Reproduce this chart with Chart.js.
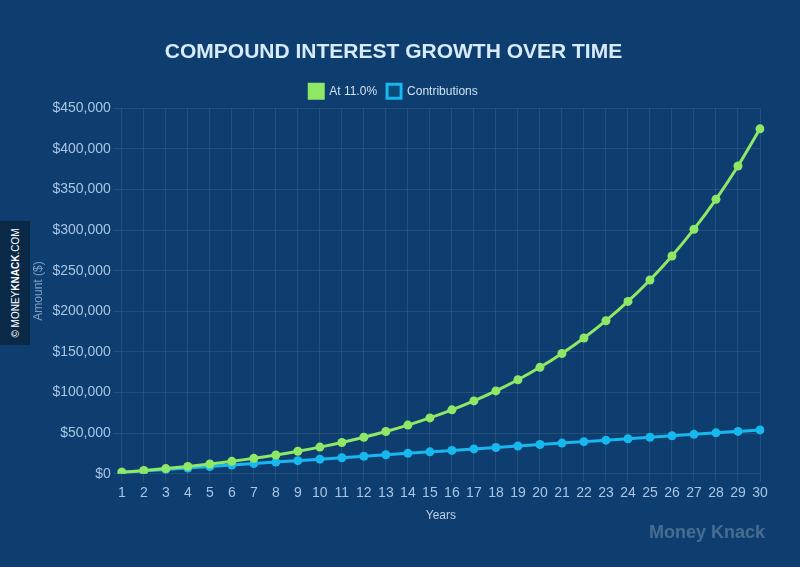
<!DOCTYPE html>
<html>
<head>
<meta charset="utf-8">
<script src="https://cdn.jsdelivr.net/npm/chart.js@4"></script>
<style>
  html, body { margin: 0; padding: 0; background: #0e3e6f; }
  #wrap { position: relative; width: 800px; height: 567px; background: #0e3e6f; }
  #badge {
    position: absolute; left: 0; top: 221px; width: 30px; height: 124px;
    background: #0a2947;
  }
  #badge span {
    position: absolute; left: 15px; top: 62px;
    transform: translate(-50%, -50%) rotate(-90deg);
    white-space: nowrap; color: #ffffff; font: 10px "Liberation Sans", Arial, sans-serif;
  }
  #brand {
    position: absolute; right: 35px; top: 522px;
    color: rgba(255,255,255,0.24); font: bold 18px "Liberation Sans", Arial, sans-serif;
  }
</style>
</head>
<body>
<div id="wrap">
  <canvas id="myChart" width="800" height="567"></canvas>
  <div id="badge"><span>© MONEY<b>KNACK</b>.COM</span></div>
  <div id="brand">Money Knack</div>
</div>
<script>
// years on the x axis
const years = [1, 2, 3, 4, 5, 6, 7, 8, 9, 10, 11, 12, 13, 14, 15,
               16, 17, 18, 19, 20, 21, 22, 23, 24, 25, 26, 27, 28, 29, 30]

// balance growing at 11.0%
const growth = [1911, 4043, 6422, 9076, 12037, 15341, 19028, 23141, 27730, 32850,
                38562, 44936, 52047, 59981, 68833, 78709, 89729, 102023, 115741, 131046,
                148122, 167174, 188430, 212147, 238608, 268131, 301070, 337823, 378826, 424577]

// money put in
const contributions = [1800, 3600, 5400, 7200, 9000, 10800, 12600, 14400, 16200, 18000,
                       19800, 21600, 23400, 25200, 27000, 28800, 30600, 32400, 34200, 36000,
                       37800, 39600, 41400, 43200, 45000, 46800, 48600, 50400, 52200, 54000]

const green = '#8ee866'
const blue = '#17b8ee'
const tickColor = '#a8c4e4'
const gridColor = 'rgba(255,255,255,0.09)'

const data = {
  labels: years,
  datasets: [{
    label: 'At 11.0%',
    data: growth,
    borderColor: green,
    backgroundColor: green,
    borderWidth: 3,
    pointRadius: 4.5,
    pointBackgroundColor: green,
    pointBorderWidth: 0,
    tension: 0.3
  },
  {
    label: 'Contributions',
    data: contributions,
    borderColor: blue,
    backgroundColor: '#0d4a7c',
    borderWidth: 3,
    pointRadius: 4.5,
    pointBackgroundColor: blue,
    pointBorderWidth: 0,
    tension: 0.3
  }]
}

const config = {
  type: 'line',
  data: data,
  options: {
    responsive: false,
    animation: false,
    layout: { padding: { left: 27, right: 40, top: 34, bottom: 40 } },
    plugins: {
      title: {
        display: true,
        text: 'COMPOUND INTEREST GROWTH OVER TIME',
        color: '#d8ebfb',
        font: { size: 21, weight: 'bold', family: '"Liberation Sans", Arial, sans-serif' },
        padding: { top: 6, bottom: 9 }
      },
      legend: {
        labels: {
          color: '#cfe0f2',
          boxWidth: 14,
          boxHeight: 14,
          font: { size: 12, family: '"Liberation Sans", Arial, sans-serif' }
        }
      },
      tooltip: { enabled: false }
    },
    scales: {
      x: {
        grid: { color: gridColor },
        border: { display: false },
        ticks: { color: tickColor, font: { size: 14 }, maxRotation: 0, autoSkip: false },
        title: { display: true, text: 'Years', color: '#b7cfe8', font: { size: 12 } }
      },
      y: {
        min: 0,
        max: 450000,
        grid: { color: gridColor },
        border: { display: false },
        ticks: {
          stepSize: 50000,
          color: tickColor,
          font: { size: 14 },
          callback: function(v) { return '$' + v.toLocaleString('en-US') }
        },
        title: { display: true, text: 'Amount ($)', color: '#7f9fc4', font: { size: 12 } }
      }
    }
  }
}

const myChart = new Chart(document.getElementById('myChart'), config)
</script>
</body>
</html>
